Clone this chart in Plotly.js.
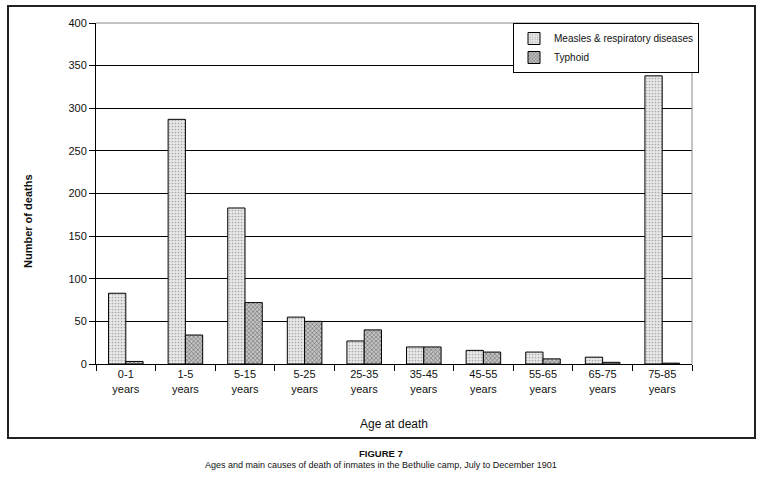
<!DOCTYPE html>
<html>
<head>
<meta charset="utf-8">
<script src="https://cdn.plot.ly/plotly-3.0.1.min.js"></script>
<style>
  html, body { margin: 0; padding: 0; background: #fff; }
  #chart { width: 762px; height: 477px; }
</style>
</head>
<body>
<div id="chart"></div>
<script>
// Data
const ageGroups = ["0-1<br>years", "1-5<br>years", "5-15<br>years", "5-25<br>years", "25-35<br>years",
                   "35-45<br>years", "45-55<br>years", "55-65<br>years", "65-75<br>years", "75-85<br>years"];
const measlesDeaths = [83, 287, 183, 55, 27, 20, 16, 14, 8, 338];
const typhoidDeaths = [3, 34, 72, 50, 40, 20, 14, 6, 2, 1];
const seriesNames = ["Measles & respiratory diseases", "Typhoid"];
const yTicks = [0, 50, 100, 150, 200, 250, 300, 350, 400];

const FONT = "Liberation Sans, Arial, sans-serif";

const traces = [
  {
    type: "bar",
    name: seriesNames[0],
    x: ageGroups,
    y: measlesDeaths,
    marker: {
      color: "#e6e6e6",
      line: { color: "#000", width: 1 },
      pattern: { shape: ".", fgcolor: "#a8a8a8", bgcolor: "#e8e8e8", size: 3, solidity: 0.25 }
    }
  },
  {
    type: "bar",
    name: seriesNames[1],
    x: ageGroups,
    y: typhoidDeaths,
    marker: {
      color: "#b0b0b0",
      line: { color: "#000", width: 1 },
      pattern: { shape: "x", fgcolor: "#555", bgcolor: "#c4c4c4", size: 3, solidity: 0.3 }
    }
  }
];

// plot area: x 96..692, y 23..364
const L = 96, R = 692, T = 23, B = 364, W = 762, H = 477;
const px = v => (v - L) / (R - L);
const py = v => (B - v) / (B - T);

const layout = {
  width: W, height: H,
  margin: { l: L, r: W - R, t: T, b: H - B },
  paper_bgcolor: "#fff",
  plot_bgcolor: "#fff",
  font: { family: FONT, size: 11, color: "#111" },
  barmode: "group",
  bargap: 0.42,
  bargroupgap: 0,
  showlegend: true,
  legend: {
    x: px(513), y: py(23), xanchor: "left", yanchor: "top",
    bgcolor: "#fff", bordercolor: "#000", borderwidth: 1,
    font: { family: FONT, size: 10, color: "#111" },
    itemwidth: 30,
    tracegroupgap: 0
  },
  xaxis: {
    type: "category",
    tickson: "boundaries",
    ticks: "outside", ticklen: 6, tickcolor: "#000", tickwidth: 1,
    showline: true, linecolor: "#000", linewidth: 1,
    showgrid: false,
    tickfont: { family: FONT, size: 11, color: "#111" },
    title: { text: "Age at death", font: { family: FONT, size: 12, color: "#111" }, standoff: 26 }
  },
  yaxis: {
    range: [0, 400],
    tickvals: yTicks,
    ticks: "outside", ticklen: 6, tickcolor: "#000", tickwidth: 1,
    showline: true, linecolor: "#000", linewidth: 1,
    showgrid: true, gridcolor: "#000", gridwidth: 1,
    zeroline: false,
    tickfont: { family: FONT, size: 11, color: "#111" }
  },
  shapes: [
    // gray right and top edges of plot area
    { type: "line", xref: "paper", yref: "paper", x0: 1, x1: 1, y0: 0, y1: 1, line: { color: "#888", width: 1 }, layer: "above" },
    { type: "line", xref: "paper", yref: "paper", x0: 0, x1: 1, y0: 1, y1: 1, line: { color: "#888", width: 1 }, layer: "above" },
    // outer frame
    { type: "rect", xref: "paper", yref: "paper",
      x0: px(8), x1: px(755), y0: py(438), y1: py(6),
      line: { color: "#222", width: 2 }, fillcolor: "rgba(0,0,0,0)", layer: "below" }
  ],
  annotations: [
    { text: "<b>Number of deaths</b>", xref: "paper", yref: "paper", x: px(28), y: py(221),
      xanchor: "center", yanchor: "middle", textangle: -90, showarrow: false,
      font: { family: FONT, size: 11, color: "#111" } },
    { text: "<b>FIGURE 7</b>", xref: "paper", yref: "paper", x: px(381), y: py(453),
      xanchor: "center", yanchor: "middle", showarrow: false,
      font: { family: FONT, size: 9.5, color: "#111" } },
    { text: "Ages and main causes of death of inmates in the Bethulie camp, July to December 1901",
      xref: "paper", yref: "paper", x: px(381), y: py(465),
      xanchor: "center", yanchor: "middle", showarrow: false,
      font: { family: FONT, size: 9, color: "#111" } }
  ]
};

Plotly.newPlot("chart", traces, layout, { displayModeBar: false, staticPlot: true });
</script>
</body>
</html>
